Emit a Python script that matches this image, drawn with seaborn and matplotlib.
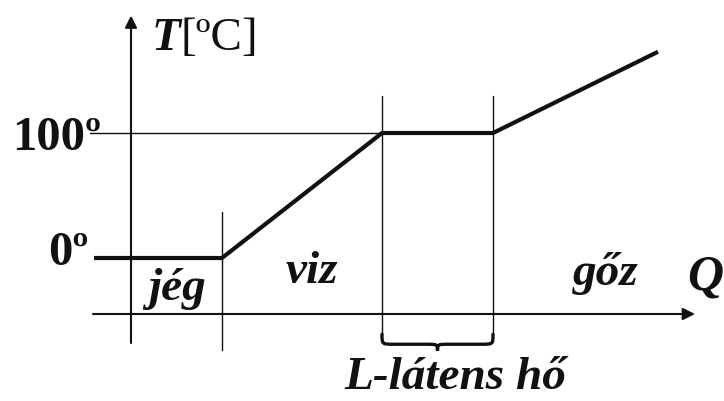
import numpy as np
import matplotlib.pyplot as plt
import pandas as pd
import seaborn as sns
from matplotlib.path import Path
from matplotlib.patches import PathPatch

# --- heating curve of water (schematic) ---
heat = [-3.7, 9.1, 25.1, 36.2, 52.7]          # Q, arbitrary units
temp = [0, 0, 100, 100, 165]                   # T in degC
phase_labels = ["jég", "viz", "gőz"]
phase_pos = [(4.6, -33.6), (18.1, -20.0), (47.5, -21.6)]
tick_labels = ["100º", "0º"]
tick_values = [100, 0]

sns.set_theme(style="white")
plt.rcParams['font.family'] = ['Liberation Serif', 'DejaVu Serif']

fig = plt.figure(figsize=(7.24, 4.01), dpi=100)
ax = fig.add_axes([0, 0, 1, 1])
ax.set_xlim(-13.1, 59.3)
ax.set_ylim(-114.4, 206.4)
ax.axis('off')

df = pd.DataFrame({'Q': heat, 'T': temp})
sns.lineplot(data=df, x='Q', y='T', ax=ax, color='#111111', lw=3.0,
             sort=False, estimator=None, solid_capstyle='butt')

# axes with arrows
arrow = dict(arrowstyle='-|>', color='#111111', lw=1.5, mutation_scale=18,
             shrinkA=0, shrinkB=0)
ax.annotate('', xy=(0, 194), xytext=(0, -68), arrowprops=arrow)
ax.annotate('', xy=(56.4, -44.8), xytext=(-3.8, -44.8), arrowprops=arrow)

# guide lines
guide = dict(color='#111111', lw=1.0)
ax.plot([-4.1, heat[2]], [tick_values[0]] * 2, **guide)
ax.plot([heat[1], heat[1]], [36.8, -73.6], **guide)
for q in heat[2:4]:
    ax.plot([q, q], [130, -61], **guide)

# brace under latent heat interval
x0, x1 = heat[2], heat[3]
xm = (x0 + x1) / 2
y_end, y_body, y_tip = -61, -69.0, -74.0
r = 1.2
verts = [(x0, y_end), (x0, y_body), (x0, y_body), (x0 + r, y_body),
         (xm - r, y_body),
         (xm, y_body), (xm, y_body), (xm, y_tip),
         (xm, y_body), (xm, y_body), (xm + r, y_body),
         (x1 - r, y_body),
         (x1, y_body), (x1, y_body), (x1, y_end)]
codes = [Path.MOVETO, Path.CURVE4, Path.CURVE4, Path.CURVE4,
         Path.LINETO,
         Path.CURVE4, Path.CURVE4, Path.CURVE4,
         Path.CURVE4, Path.CURVE4, Path.CURVE4,
         Path.LINETO,
         Path.CURVE4, Path.CURVE4, Path.CURVE4]
ax.add_patch(PathPatch(Path(verts, codes), fill=False, lw=2.4,
                       edgecolor='#111111', capstyle='round'))

# texts
bi = dict(fontweight='bold', fontstyle='italic', color='#111111')
for lab, (qx, ty) in zip(phase_labels, phase_pos):
    ax.text(qx, ty, lab, fontsize=34, ha='center', va='baseline', **bi)
ax.text(55.6, -25.6, 'Q', fontsize=36, ha='left', va='baseline', **bi)
ax.text(32.4, -104.5, 'L-látens hő', fontsize=34, ha='center', va='baseline', **bi)

ax.text(-3.0, 86.4, tick_labels[0], fontsize=35, ha='right', va='baseline',
        fontweight='bold', color='#111111')
ax.text(-4.2, -5.6, tick_labels[1], fontsize=35, ha='right', va='baseline',
        fontweight='bold', color='#111111')

t = ax.text(2.1, 166.4, 'T', fontsize=34, ha='left', va='baseline', **bi)
ax.annotate('[ºC]', xycoords=t, xy=(1, 0), va='bottom', ha='left',
            fontsize=34, color='#111111')

fig.savefig('out.png', dpi=100)
